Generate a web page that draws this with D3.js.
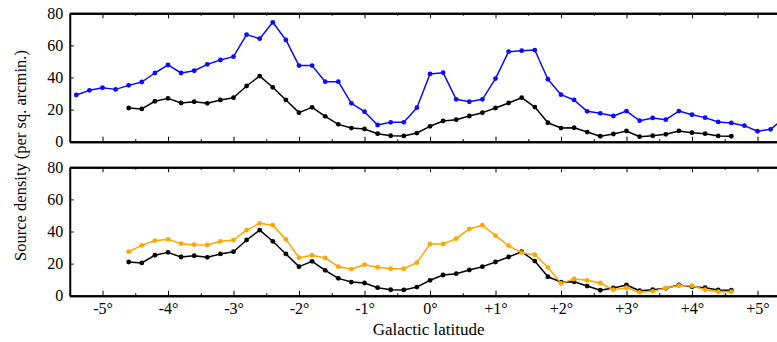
<!DOCTYPE html>
<html>
<head>
<meta charset="utf-8">
<script src="https://cdn.jsdelivr.net/npm/d3@7"></script>
<style>
html,body{margin:0;padding:0;background:#fff;}
svg{display:block;}
</style>
</head>
<body>
<svg id="chart" width="777" height="342"></svg>
<script>
// ---- data ----
const blueLat = [-5.4,-5.2,-5.0,-4.8,-4.6,-4.4,-4.2,-4.0,-3.8,-3.6,-3.4,-3.2,-3.0,-2.8,-2.6,-2.4,-2.2,-2.0,-1.8,-1.6,-1.4,-1.2,-1.0,-0.8,-0.6,-0.4,-0.2,0.0,0.2,0.4,0.6,0.8,1.0,1.2,1.4,1.6,1.8,2.0,2.2,2.4,2.6,2.8,3.0,3.2,3.4,3.6,3.8,4.0,4.2,4.4,4.6,4.8,5.0,5.2,5.4];
const blueVals = [29.1,32.0,33.6,32.6,35.1,37.2,42.8,47.8,42.8,44.2,48.2,50.9,53.0,66.7,64.2,74.4,63.4,47.4,47.4,37.4,37.4,23.9,18.7,10.4,12.1,12.1,21.2,42.2,43.0,26.4,24.9,26.4,39.3,56.1,56.7,57.1,38.9,29.3,26.0,18.9,17.7,16.0,19.1,13.1,14.8,13.7,19.1,16.8,15.0,12.3,11.7,10.0,6.5,7.7,14.5];

const blackLat = [-4.6,-4.4,-4.2,-4.0,-3.8,-3.6,-3.4,-3.2,-3.0,-2.8,-2.6,-2.4,-2.2,-2.0,-1.8,-1.6,-1.4,-1.2,-1.0,-0.8,-0.6,-0.4,-0.2,0.0,0.2,0.4,0.6,0.8,1.0,1.2,1.4,1.6,1.8,2.0,2.2,2.4,2.6,2.8,3.0,3.2,3.4,3.6,3.8,4.0,4.2,4.4,4.6];
const blackVals = [21.0,20.4,25.2,27.0,24.1,24.9,23.9,26.0,27.4,34.7,40.9,33.9,26.0,18.1,21.4,15.8,10.8,8.5,7.9,5.0,3.7,3.6,5.4,9.6,12.9,13.7,16.0,18.1,21.0,24.1,27.4,21.6,11.8,8.5,8.7,6.0,3.4,4.8,6.7,3.1,3.7,4.6,6.7,5.6,5.0,3.6,3.4];

const orangeLat = blackLat;
const orangeVals = [27.4,31.4,34.3,35.1,32.4,31.8,31.6,33.9,34.7,40.9,45.1,43.9,35.1,23.7,25.2,23.5,18.1,16.6,19.3,17.7,16.8,16.8,20.6,32.2,32.2,35.5,41.6,43.9,37.4,31.2,26.8,25.5,17.7,7.7,10.4,9.6,7.9,3.7,5.0,2.1,2.7,4.8,6.2,6.2,3.7,2.5,2.5];

const xTickVals = [-5,-4,-3,-2,-1,0,1,2,3,4,5];
const xTickLabels = ["-5°","-4°","-3°","-2°","-1°","0°","+1°","+2°","+3°","+4°","+5°"];
const yTickVals = [0,20,40,60,80];
const yTickLabels = ["0","20","40","60","80"];
const xMinorVals = [-5.5,-4.5,-3.5,-2.5,-1.5,-0.5,0.5,1.5,2.5,3.5,4.5];

const xLabel = "Galactic latitude";
const yLabel = "Source density (per sq. arcmin.)";

const FONT = '"Liberation Serif", "Times New Roman", serif';

// ---- layout ----
const svg = d3.select("#chart");
const left = 69.75, right = 777.15;
const x = d3.scaleLinear().domain([-5.5, 5.3]).range([left, right]);

const panels = [
  {top: 13.3, bottom: 141.7, series: [
    {lat: blueLat, vals: blueVals, color: "#0a0aff"},
    {lat: blackLat, vals: blackVals, color: "#000"}
  ], labels: false},
  {top: 167.3, bottom: 295.7, series: [
    {lat: blackLat, vals: blackVals, color: "#000"},
    {lat: orangeLat, vals: orangeVals, color: "#ffa500"}
  ], labels: true}
];

svg.append("defs").selectAll("clipPath").data(panels).join("clipPath")
  .attr("id", (d,i) => "clip" + i)
  .append("rect")
  .attr("x", left).attr("y", d => d.top - 5)
  .attr("width", 800).attr("height", d => d.bottom - d.top + 10);

panels.forEach((p, i) => {
  const y = d3.scaleLinear().domain([0, 80]).range([p.bottom, p.top]);
  const g = svg.append("g");

  const sg = g.append("g").attr("clip-path", `url(#clip${i})`);
  p.series.forEach(s => {
    const pts = s.lat.map((l, k) => [l, s.vals[k]]);
    sg.append("path")
      .attr("d", d3.line().x(d => x(d[0])).y(d => y(d[1]))(pts))
      .attr("fill", "none").attr("stroke", s.color).attr("stroke-width", 1.5)
      .attr("stroke-linejoin", "round");
    sg.selectAll(null).data(pts).join("circle")
      .attr("cx", d => x(d[0])).attr("cy", d => y(d[1]))
      .attr("r", 2.4).attr("fill", s.color);
  });

  const bAx = d3.axisBottom(x).tickValues(xTickVals).tickSize(-5)
    .tickFormat((d, k) => p.labels ? xTickLabels[k] : "").tickSizeOuter(0).tickPadding(7);
  const bg = g.append("g").attr("transform", `translate(0,${p.bottom})`).call(bAx);
  const bAxMin = d3.axisBottom(x).tickValues(xMinorVals).tickSize(-2.5).tickFormat("").tickSizeOuter(0);
  const bgm = g.append("g").attr("transform", `translate(0,${p.bottom})`).call(bAxMin);

  const tAx = d3.axisTop(x).tickValues(xTickVals).tickSize(-5).tickFormat("").tickSizeOuter(0);
  const tg = g.append("g").attr("transform", `translate(0,${p.top})`).call(tAx);
  const tAxMin = d3.axisTop(x).tickValues(xMinorVals).tickSize(-2.5).tickFormat("").tickSizeOuter(0);
  const tgm = g.append("g").attr("transform", `translate(0,${p.top})`).call(tAxMin);

  const lAx = d3.axisLeft(y).tickValues(yTickVals).tickSize(-4)
    .tickFormat((d, k) => yTickLabels[k]).tickSizeOuter(0).tickPadding(6.5);
  const lg = g.append("g").attr("transform", `translate(${left},0)`).call(lAx);

  [bg, bgm, tg, tgm, lg].forEach(a => {
    a.attr("font-family", FONT).attr("font-size", 16);
    a.select(".domain").attr("stroke", "#000").attr("stroke-width", 2);
    a.selectAll(".tick line").attr("stroke", "#000").attr("stroke-width", 1);
    a.selectAll(".tick text").attr("fill", "#000");
  });
});

svg.append("text").attr("x", 428.6).attr("y", 335).attr("text-anchor", "middle")
  .attr("font-family", FONT).attr("font-size", 17).attr("fill", "#000").text(xLabel);
svg.append("text").attr("transform", "translate(26,155.5) rotate(-90)")
  .attr("text-anchor", "middle").attr("font-family", FONT).attr("font-size", 16.5)
  .attr("fill", "#000").text(yLabel);
</script>
</body>
</html>
